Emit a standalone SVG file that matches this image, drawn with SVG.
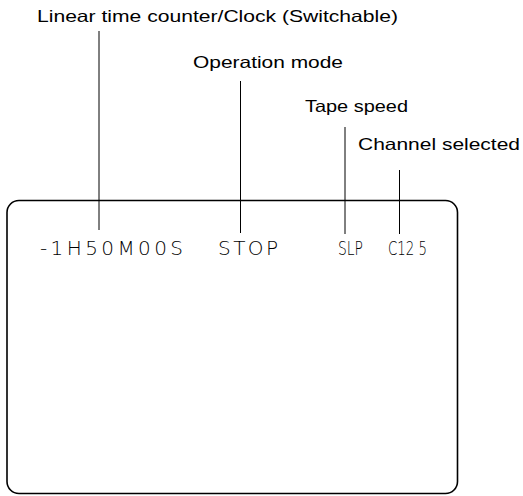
<svg xmlns="http://www.w3.org/2000/svg" width="523" height="496" viewBox="0 0 523 496">
<style>
.lbl{font-family:"Liberation Sans",Arial,sans-serif;font-size:16.5px;fill:#000}
.lcd{font-family:"DejaVu Sans","Liberation Sans",sans-serif;font-size:20px;font-weight:200;fill:#000}
.ln{stroke:#000;stroke-width:1;fill:none}
.box{stroke:#000;stroke-width:1.6;fill:none}
</style>
<rect width="523" height="496" fill="#fff"/>
<g id="screen">
<rect class="box" x="7" y="200.5" width="450.5" height="293" rx="12" ry="12"/>
</g>
<g id="labels">
<text id="label-counter" class="lbl" x="37" y="22" textLength="361" lengthAdjust="spacingAndGlyphs">Linear time counter/Clock (Switchable)</text>
<text id="label-mode" class="lbl" x="193" y="68" textLength="150" lengthAdjust="spacingAndGlyphs">Operation mode</text>
<text id="label-speed" class="lbl" x="305" y="112" textLength="103" lengthAdjust="spacingAndGlyphs">Tape speed</text>
<text id="label-channel" class="lbl" x="358" y="150" textLength="162" lengthAdjust="spacingAndGlyphs">Channel selected</text>
</g>
<g id="display">
<text id="disp-counter" class="lcd" x="40" y="255" textLength="143" lengthAdjust="spacing">-1H50M00S</text>
<text id="disp-mode" class="lcd" x="218" y="255" textLength="60" lengthAdjust="spacing">STOP</text>
<text id="disp-speed" class="lcd" x="338" y="255" textLength="25" lengthAdjust="spacingAndGlyphs">SLP</text>
<text id="disp-channel" class="lcd" x="388" y="255" textLength="39" lengthAdjust="spacingAndGlyphs">C12 5</text>
</g>
<g id="connectors">
<line class="ln" x1="99" y1="31" x2="99" y2="230"/>
<line class="ln" x1="240.5" y1="81" x2="240.5" y2="233"/>
<line class="ln" x1="345" y1="127" x2="345" y2="234"/>
<line class="ln" x1="399.5" y1="170" x2="399.5" y2="234"/>
</g>
</svg>
